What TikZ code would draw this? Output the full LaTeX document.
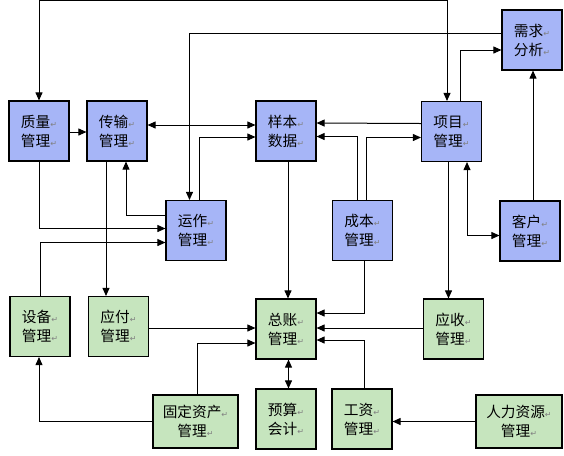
\documentclass[tikz,border=0pt]{standalone}
\usepackage{fontspec}
\usepackage{tikz}
\usetikzlibrary{arrows.meta,calc}
\usepackage{xcolor}
\newfontfamily\cjk{Noto Sans CJK SC}
\newfontfamily\markfont{DejaVu Sans}
\definecolor{boxblue}{RGB}{166,181,247}
\definecolor{boxgreen}{RGB}{198,229,190}
\newcommand{\retmark}{{\color{gray}\markfont\fontsize{6}{6}\selectfont ↵}}

\begin{document}
\begin{tikzpicture}[x=0.75pt,y=-0.75pt,>={Triangle[length=6pt,width=5.2pt]},line width=0.75pt]
	\useasboundingbox (0,0) rectangle (564,455);
	\begin{scope}[every node/.style={rectangle,draw,line width=0.8pt,fill=boxblue,align=center,inner sep=0pt,minimum width=45pt,minimum height=45pt,font=\cjk\fontsize{11}{14.25}\selectfont}]
		\node (1) at (39,131) {质量\retmark\\管理\retmark};
		\node (2) at (117,131) {传输\retmark\\管理\retmark};
		\node (3) at (286,131) {样本\retmark\\数据\retmark};
		\node (4) at (451.5,131.5) {项目\retmark\\管理\retmark};
		\node (5) at (532,40) {需求\retmark\\分析\retmark};
		\node (6) at (196,230.5) {运作\retmark\\管理\retmark};
		\node (7) at (362.5,230.5) {成本\retmark\\管理\retmark};
		\node (8) at (530,231) {客户\retmark\\管理\retmark};
	\end{scope}
	\begin{scope}[every node/.style={rectangle,draw,line width=0.8pt,fill=boxgreen,align=center,inner sep=0pt,minimum width=45pt,minimum height=45pt,font=\cjk\fontsize{11}{14.25}\selectfont}]
		\node (9) at (40,326.5) {设备\retmark\\管理\retmark};
		\node (10) at (118.5,326.5) {应付\retmark\\管理\retmark};
		\node (11) at (286,329) {总账\retmark\\管理\retmark};
		\node (12) at (453.5,329) {应收\retmark\\管理\retmark};
		\node[minimum width=63.75pt,minimum height=39.75pt] (13) at (195.5,421.5) {固定资产\retmark\\管理\retmark};
		\node (14) at (286,419) {预算\retmark\\会计\retmark};
		\node (15) at (362,419) {工资\retmark\\管理\retmark};
		\node[minimum width=64.5pt,minimum height=39.75pt] (16) at (519,421.5) {人力资源\retmark\\管理\retmark};
	\end{scope}
	\begin{scope}
		\draw[<->] (1.north) -- ++(0,-99.5) -| ($(4.north)+(-4.5,0)$);
		\draw[->] ($(5.west)+(0,-7)$) -| ($(6.north)+(-6.5,0)$);
		\draw[->] ($(1.east)+(0,1)$) -- ($(2.west)+(0,1)$);
		\draw[<->] ($(2.east)+(0,-6)$) -- ($(3.west)+(0,-6)$);
		\draw[->] ($(6.north)+(3.5,0)$) |- ($(3.west)+(0,6)$);
		\draw[->] ($(6.west)+(0,-15)$) -| ($(2.south)+(9,0)$);
		\draw[->] (1.south) |- ($(6.west)+(0,-2)$);
		\draw[->] (9.north) |- ($(6.west)+(0,12)$);
		\draw[->] ($(2.south)+(-11,0)$) -- ($(10.north)+(-12.5,0)$);
		\draw[->] ($(3.south)+(2,0)$) -- ($(11.north)+(2,0)$);
		\draw[->] ($(4.west)+(0,-8)$) -- ($(3.east)+(0,-8)$);
		\draw[->] ($(7.north)+(-5,0)$) |- ($(3.east)+(0,5.5)$);
		\draw[->] ($(7.north)+(4,0)$) |- ($(4.west)+(0,6)$);
		\draw[->] ($(4.north)+(9,0)$) |- ($(5.west)+(0,10)$);
		\draw[->] ($(8.north)+(3,0)$) -- ($(5.south)+(1,0)$);
		\draw[<->] ($(4.south)+(15.5,0)$) |- ($(8.west)+(0,4.5)$);
		\draw[->] ($(4.south)+(-3,0)$) -- ($(12.north)+(-5,0)$);
		\draw[->] ($(7.south)+(2,0)$) |- ($(11.east)+(0,-16)$);
		\draw[->] ($(12.west)+(0,-1)$) -- ($(11.east)+(0,-1)$);
		\draw[->] ($(15.north)+(2,0)$) |- ($(11.east)+(0,11)$);
		\draw[->] (16.west) -- (15.east |- 16.west);
		\draw[<->] ($(11.south)+(2.5,0)$) -- ($(14.north)+(2.5,0)$);
		\draw[->] ($(10.east)+(0,1.5)$) -- ($(11.west)+(0,-1)$);
		\draw[->] ($(13.north)+(1.5,0)$) |- ($(11.west)+(0,14)$);
		\draw[->] ($(13.west)+(0,-0.5)$) -| ($(9.south)+(-1,0)$);
	\end{scope}
\end{tikzpicture}
\end{document}
